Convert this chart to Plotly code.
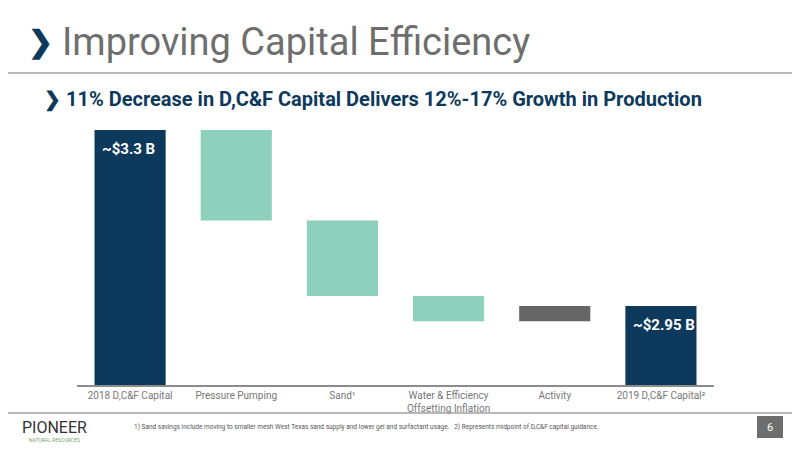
import plotly.graph_objects as go

categories = ["2018 D,C&F Capital", "Pressure Pumping", "Sand¹",
              "Water & Efficiency<br>Offsetting Inflation", "Activity", "2019 D,C&F Capital²"]
measures = ["absolute", "relative", "relative", "relative", "relative", "total"]
values = [3.30, -0.18, -0.15, -0.05, 0.03, 0]
start_label = "~$3.3 B"
end_label = "~$2.95 B"

NAVY = "#0d3a5c"
TEAL = "#8dd0bc"
GREY = "#666666"
FONT = "Liberation Sans Narrow, Roboto, sans-serif"

# the page puts the figure 8px in from the top-left corner
OFF = 8
W, H = 800 - OFF, 450 - OFF
L, T, PW, PH = 77 - OFF, 120 - OFF, 637, 265
R, B = W - L - PW, H - T - PH


def px(x):
    return (x - OFF - L) / PW


def py(y):
    return (T + PH - (y - OFF)) / PH


fig = go.Figure(go.Waterfall(
    x=categories,
    measure=measures,
    y=values,
    base=0,
    width=0.67,
    decreasing=dict(marker=dict(color=TEAL)),
    increasing=dict(marker=dict(color=GREY)),
    totals=dict(marker=dict(color=NAVY)),
    connector=dict(visible=False),
    hoverinfo="skip",
))

fig.update_layout(
    width=W, height=H,
    margin=dict(l=L, r=R, t=T, b=B, autoexpand=False),
    paper_bgcolor="white", plot_bgcolor="white",
    showlegend=False,
    font=dict(family=FONT),
    xaxis=dict(showline=True, linecolor="#8c8c8c", linewidth=2, ticks="", automargin=False,
               tickfont=dict(size=10, color="#777777", family=FONT)),
    yaxis=dict(range=[2.793, 3.32], visible=False, showgrid=False, automargin=False),
)

# bar value labels
fig.add_annotation(text="<b>" + start_label + "</b>", x=categories[0], y=3.3, xref="x", yref="y",
                   xshift=-30, yshift=-8, showarrow=False, xanchor="left", yanchor="top",
                   font=dict(size=15, color="white", family=FONT))
fig.add_annotation(text="<b>" + end_label + "</b>", x=categories[-1], y=sum(values), xref="x", yref="y",
                   xshift=-30, yshift=-8, showarrow=False, xanchor="left", yanchor="top",
                   font=dict(size=15, color="white", family=FONT))


def note(text, x, y, size, color, xanchor="left"):
    fig.add_annotation(text=text, x=px(x), y=py(y), xref="paper", yref="paper", showarrow=False,
                       xanchor=xanchor, yanchor="middle", font=dict(size=size, color=color, family=FONT))


# title, subtitle and slide furniture
note("<b>❯</b>", 40, 42, 30, NAVY, "center")
note("Improving Capital Efficiency", 60, 42, 38, "#6e6e6e")
note("<b>❯ 11% Decrease in D,C&F Capital Delivers 12%-17% Growth in Production</b>", 42, 99, 20, NAVY)
fig.add_shape(type="line", xref="paper", yref="paper", x0=px(0), x1=px(800),
              y0=py(73), y1=py(73), line=dict(color="#a0a0a0", width=1.5))
fig.add_shape(type="line", xref="paper", yref="paper", x0=px(0), x1=px(800),
              y0=py(413), y1=py(413), line=dict(color="#a0a0a0", width=1.5))
note("PIONEER", 54, 427, 16, "#333333", "center")
note("NATURAL RESOURCES", 54, 440, 5, "#7aa36a", "center")
note("1) Sand savings include moving to smaller mesh West Texas sand supply and lower gel and "
     "surfactant usage.   2) Represents midpoint of D,C&F capital guidance.", 132, 427, 6.5, "#555555")
fig.add_shape(type="rect", xref="paper", yref="paper", x0=px(757), x1=px(783),
              y0=py(438), y1=py(416), fillcolor="#6e6e6e", line=dict(width=0))
note("6", 770, 427, 11, "white", "center")

fig.write_html("out.html")
